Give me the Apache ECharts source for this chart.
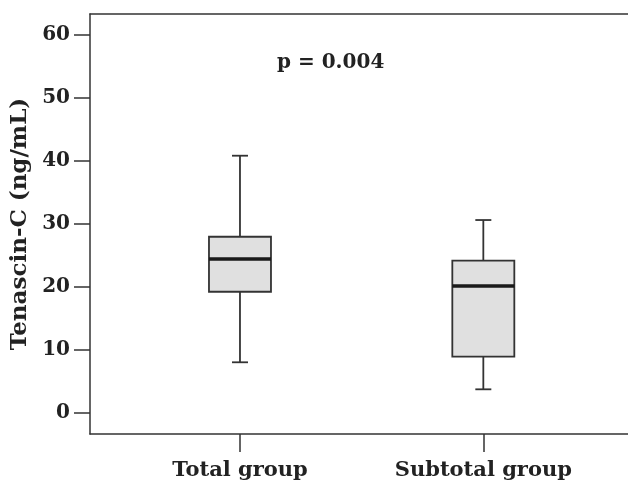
<!DOCTYPE html>
<html>
<head>
<meta charset="utf-8">
<script src="https://cdn.jsdelivr.net/npm/echarts@6/dist/echarts.min.js"></script>
<style>html,body{margin:0;padding:0;background:#fff}#c{width:628px;height:484px}</style>
</head>
<body>
<div id="c"></div>
<script>
var categories = ['Total group', 'Subtotal group'];
var whiskerLow = [8.05, 3.76];
var q1 = [19.25, 8.94];
var median = [24.44, 20.16];
var q3 = [27.98, 24.18];
var whiskerHigh = [40.84, 30.63];
var yTicks = [0, 10, 20, 30, 40, 50, 60];
var yMin = -3.333, yMax = 63.333;
var yAxisName = 'Tenascin-C (ng/mL)';
var pText = 'p = 0.004';

var FONT = '"DejaVu Serif", "Liberation Serif", serif';
var INK = '#222';

var boxData = categories.map(function (c, i) {
  return [i, whiskerLow[i], q1[i], median[i], q3[i], whiskerHigh[i]];
});

function renderBox(params, api) {
  var i = api.value(0);
  var pLow = api.coord([i, api.value(1)]);
  var pQ1 = api.coord([i, api.value(2)]);
  var pMed = api.coord([i, api.value(3)]);
  var pQ3 = api.coord([i, api.value(4)]);
  var pHigh = api.coord([i, api.value(5)]);
  var x = pMed[0];
  var hw = 31, cw = 8;
  var ls = { stroke: '#333', lineWidth: 1.8 };
  return {
    type: 'group',
    children: [
      { type: 'line', shape: { x1: x, y1: pQ3[1], x2: x, y2: pHigh[1] }, style: ls },
      { type: 'line', shape: { x1: x - cw, y1: pHigh[1], x2: x + cw, y2: pHigh[1] }, style: ls },
      { type: 'line', shape: { x1: x, y1: pQ1[1], x2: x, y2: pLow[1] }, style: ls },
      { type: 'line', shape: { x1: x - cw, y1: pLow[1], x2: x + cw, y2: pLow[1] }, style: ls },
      { type: 'rect', shape: { x: x - hw, y: pQ3[1], width: hw * 2, height: pQ1[1] - pQ3[1] },
        style: { fill: '#e0e0e0', stroke: '#333', lineWidth: 1.8 } },
      { type: 'line', shape: { x1: x - hw, y1: pMed[1], x2: x + hw, y2: pMed[1] },
        style: { stroke: '#1a1a1a', lineWidth: 3.5 } }
    ]
  };
}

var chart = echarts.init(document.getElementById('c'), null, { renderer: 'canvas' });
chart.setOption({
  animation: false,
  backgroundColor: '#fff',
  grid: [
    { left: 90, right: 0, top: 14, bottom: 50 },
    { left: 118.3, right: 23, top: 14, bottom: 50 }
  ],
  xAxis: [
    { gridIndex: 0, type: 'value', min: 0, max: 1, position: 'bottom',
      axisLine: { show: true, onZero: false, lineStyle: { color: '#333', width: 1.5 } },
      axisTick: { show: false }, axisLabel: { show: false }, splitLine: { show: false } },
    { gridIndex: 0, type: 'value', min: 0, max: 1, position: 'top',
      axisLine: { show: true, onZero: false, lineStyle: { color: '#333', width: 1.5 } },
      axisTick: { show: false }, axisLabel: { show: false }, splitLine: { show: false } },
    { gridIndex: 1, type: 'category', data: categories, boundaryGap: true, position: 'bottom',
      axisLine: { show: false, onZero: false },
      axisTick: { show: true, alignWithLabel: true, length: 18, lineStyle: { color: '#333', width: 1.5 } },
      axisLabel: { show: true, margin: 26, color: INK, fontFamily: FONT, fontWeight: 'bold', fontSize: 21 },
      splitLine: { show: false } }
  ],
  yAxis: [
    { gridIndex: 0, type: 'value', min: yMin, max: yMax,
      name: yAxisName, nameLocation: 'middle', nameGap: 57, nameRotate: 90,
      nameTextStyle: { color: INK, fontFamily: FONT, fontWeight: 'bold', fontSize: 23 },
      axisLine: { show: true, onZero: false, lineStyle: { color: '#333', width: 1.5 } },
      axisTick: { show: true, length: 16, customValues: yTicks, lineStyle: { color: '#333', width: 1.5 } },
      axisLabel: { show: true, margin: 20, customValues: yTicks, color: INK, fontFamily: FONT, fontWeight: 'bold', fontSize: 20 },
      splitLine: { show: false } },
    { gridIndex: 1, type: 'value', min: yMin, max: yMax, show: false }
  ],
  graphic: [
    { type: 'text', left: 277, top: 53,
      style: { text: pText, fill: INK, font: 'bold 20px ' + FONT } }
  ],
  series: [
    { type: 'custom', xAxisIndex: 2, yAxisIndex: 1, data: boxData, renderItem: renderBox,
      encode: { x: 0, y: [1, 2, 3, 4, 5] } }
  ]
});
</script>
</body>
</html>
